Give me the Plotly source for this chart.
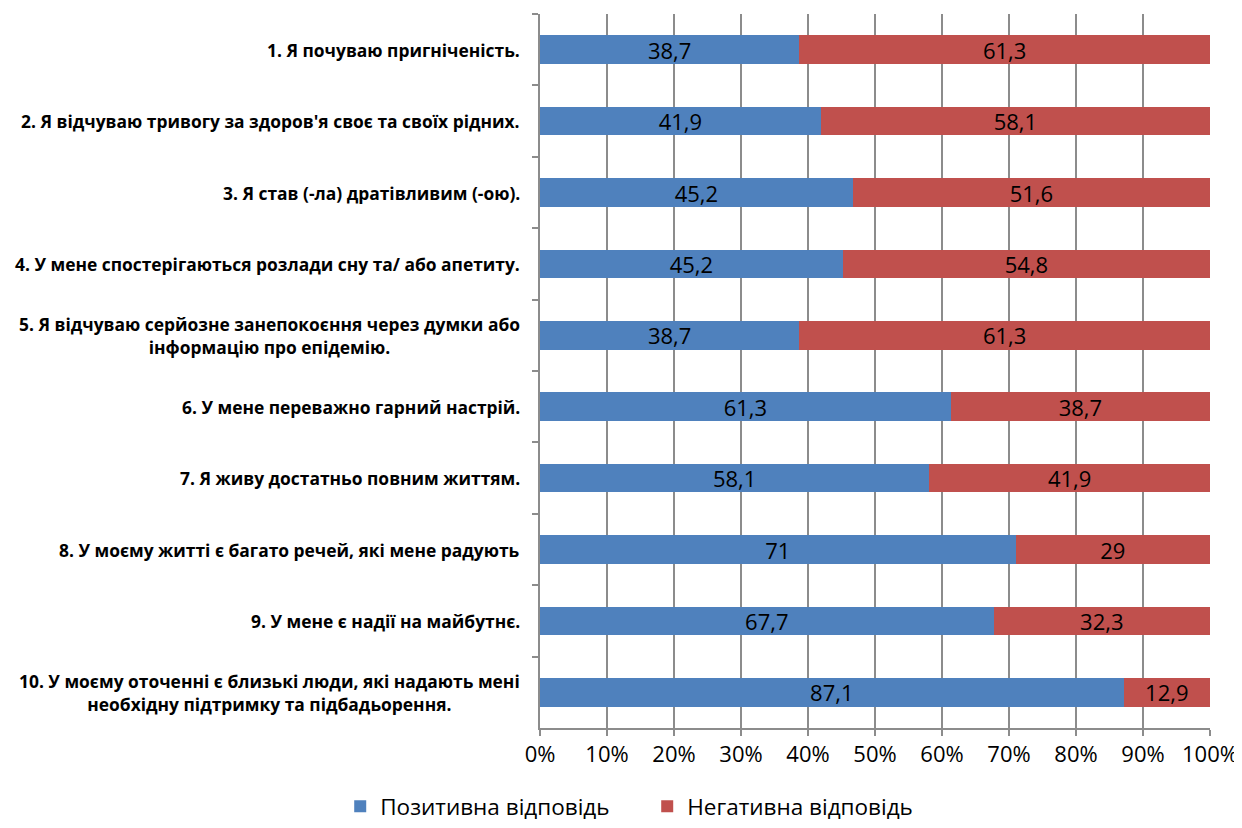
import plotly.graph_objects as go

categories = [
    "1. Я почуваю пригніченість.",
    "2. Я відчуваю тривогу за здоров'я своє та своїх рідних.",
    "3. Я став (-ла) дратівливим (-ою).",
    "4. У мене спостерігаються розлади сну та/ або апетиту.",
    "5. Я відчуваю серйозне занепокоєння через думки або<br>інформацію про епідемію.",
    "6. У мене переважно гарний настрій.",
    "7. Я живу достатньо повним життям.",
    "8. У моєму житті є багато речей, які мене радують",
    "9. У мене є надії на майбутнє.",
    "10. У моєму оточенні є близькі люди, які надають мені<br>необхідну підтримку та підбадьорення.",
]
positive = [38.7, 41.9, 45.2, 45.2, 38.7, 61.3, 58.1, 71, 67.7, 87.1]
negative = [61.3, 58.1, 51.6, 54.8, 61.3, 38.7, 41.9, 29, 32.3, 12.9]
series_names = ["Позитивна відповідь", "Негативна відповідь"]
colors = ["#4F81BD", "#C0504D"]
x_ticks = [0, 10, 20, 30, 40, 50, 60, 70, 80, 90, 100]

FONT = "Open Sans"


def fmt(v):
    return f"{v:g}".replace(".", ",")


fig = go.Figure()
for name, vals, col in zip(series_names, [positive, negative], colors):
    fig.add_trace(go.Bar(
        y=categories, x=vals, name=name, orientation="h",
        marker=dict(color=col, line=dict(width=0)),
        text=[fmt(v) for v in vals], textposition="inside",
        insidetextanchor="middle", constraintext="none", textangle=0,
        textfont=dict(size=22, color="black", family=FONT),
        width=0.4,
    ))

for c in categories:
    fig.add_annotation(
        x=0, xref="paper", y=c, yref="y", text=f"<b>{c}</b>",
        showarrow=False, xanchor="right", align="center",
        xshift=-18, font=dict(size=17.4, color="black", family=FONT),
    )

# page body has an 8px margin, so the figure is shifted by (8, 8)
fig.update_layout(
    barmode="stack", barnorm="percent",
    width=1234, height=820,
    margin=dict(l=532, r=32, t=6, b=100, autoexpand=False),
    paper_bgcolor="white", plot_bgcolor="white",
    font=dict(family=FONT, color="black"),
    legend=dict(orientation="h", xref="container", x=0.518, xanchor="center",
                yref="container", y=-0.03, yanchor="bottom",
                font=dict(size=22.5), traceorder="normal", itemwidth=30,
                entrywidth=262, entrywidthmode="pixels"),
    showlegend=True,
)
fig.update_xaxes(
    range=[0, 100], tickvals=x_ticks, ticktext=[f"{t}%" for t in x_ticks],
    tickangle=0,
    showgrid=True, gridcolor="#8c8c8c", gridwidth=1.5,
    showline=True, linecolor="#8c8c8c", linewidth=1.5,
    ticks="outside", ticklen=6, tickcolor="#8c8c8c", tickwidth=1.5,
    tickfont=dict(size=22), zeroline=False, fixedrange=True,
)
fig.update_yaxes(
    autorange="reversed", showticklabels=False,
    showline=True, linecolor="#8c8c8c", linewidth=1.5,
    ticks="outside", ticklen=6, tickcolor="#8c8c8c", tickwidth=1.5,
    tickson="boundaries", showgrid=False,
)

fig.write_html("out.html")
